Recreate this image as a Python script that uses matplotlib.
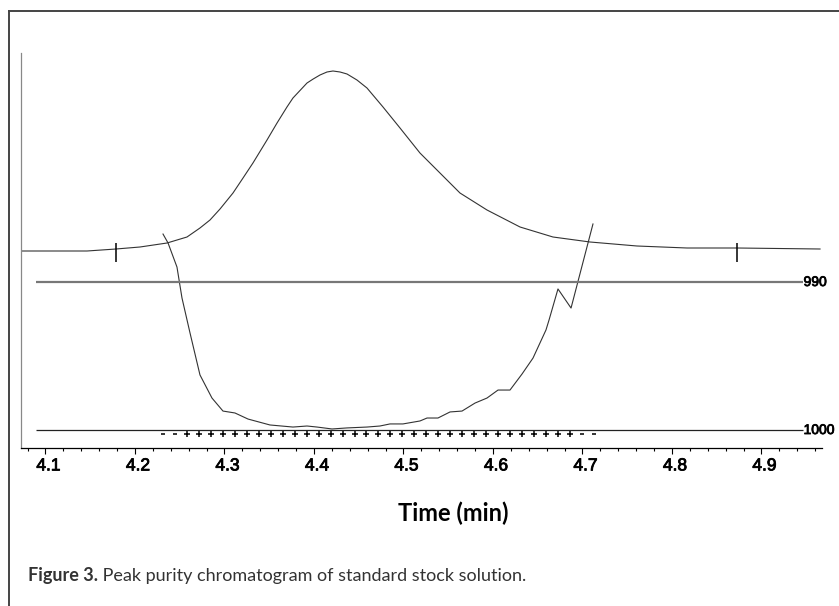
# peak purity chromatogram, standard stock solution
import numpy as np
import matplotlib
matplotlib.use('Agg')
import matplotlib.pyplot as plt
import matplotlib.patheffects as pe
from matplotlib.lines import Line2D
from matplotlib.transforms import ScaledTranslation

# chromatogram trace (time in min, absorbance in mAU)
chrom_t = [4.0726, 4.1464, 4.1788, 4.2056, 4.2358, 4.2581, 4.2726, 4.2838, 4.2950,
           4.3095, 4.3207, 4.3318, 4.3475, 4.3587, 4.3698, 4.3765, 4.3922, 4.3991,
           4.4067, 4.4145, 4.4212, 4.4291, 4.4369, 4.4480, 4.4592, 4.4771, 4.4961,
           4.5184, 4.5374, 4.5631, 4.5933, 4.6302, 4.6670, 4.7084, 4.7609, 4.8168,
           4.8726, 4.9654]
chrom_a = [0, 0, 2, 4, 8, 14, 23, 31, 42,
           58, 73, 88, 111, 128, 144, 153, 168, 172,
           176, 179, 180, 179, 177, 171, 163, 144, 123,
           98, 81, 58, 41, 24, 14, 9, 5, 3,
           3, 2]

# peak start / end marks
mark_t = [4.179, 4.873]

# purity curve (purity index, axis inverted)
pur_t = [4.2313, 4.2369, 4.2469, 4.2525, 4.2615, 4.2726, 4.2860, 4.2983, 4.3117,
         4.3263, 4.3508, 4.3765, 4.3922, 4.4034, 4.4201, 4.4369, 4.4592, 4.4737,
         4.4849, 4.4994, 4.5184, 4.5263, 4.5385, 4.5520, 4.5654, 4.5799, 4.5933,
         4.6056, 4.6190, 4.6324, 4.6447, 4.6592, 4.6626, 4.6726, 4.6872, 4.7117]
pur_v = [986.76, 987.36, 988.99, 991.08, 993.45, 996.28, 997.84, 998.72, 998.85,
         999.26, 999.66, 999.80, 999.73, 999.80, 999.93, 999.86, 999.80, 999.73,
         999.59, 999.59, 999.39, 999.19, 999.19, 998.78, 998.72, 998.18, 997.84,
         997.30, 997.30, 996.22, 995.14, 993.24, 992.57, 990.47, 991.76, 986.08]

# purity flags along the bottom line
flag_t = [4.2313, 4.2447, 4.2581, 4.2714, 4.2848, 4.2982, 4.3116, 4.3249, 4.3383,
          4.3517, 4.3650, 4.3784, 4.3918, 4.4051, 4.4185, 4.4319, 4.4453, 4.4586,
          4.4720, 4.4854, 4.4988, 4.5121, 4.5255, 4.5389, 4.5523, 4.5656, 4.5790,
          4.5924, 4.6057, 4.6191, 4.6325, 4.6459, 4.6592, 4.6726, 4.6860, 4.6994,
          4.7128]
flag_s = "--+++++++++++++++++++++++++++++++++--"

ref_lines = [990, 1000]
ref_labels = ['990', '1000']

major_ticks = [4.1, 4.2, 4.3, 4.4, 4.5, 4.6, 4.7, 4.8, 4.9]
tick_labels = ['4.1', '4.2', '4.3', '4.4', '4.5', '4.6', '4.7', '4.8', '4.9']

W, H = 839, 606
fig = plt.figure(figsize=(W/100., H/100.), dpi=100)
heavy = [pe.withStroke(linewidth=0.6, foreground='black')]

# axes box in pixels: left 21, right 822, top 53, bottom 448
ax = fig.add_axes([21./W, (H-448.)/H, (822-21.)/W, (448-53.)/H])
ax.set_xlim(4.07263, 4.96760)
ax.set_ylim(-197, 198)
ax.plot(chrom_t, chrom_a, color='#333333', lw=0.8)
ax.vlines(mark_t, -11, 8, color='black', lw=1.1)

for s in ['top', 'right']:
    ax.spines[s].set_visible(False)
ax.spines['left'].set_color('#888888')
ax.spines['left'].set_linewidth(0.9)
ax.spines['bottom'].set_color('black')
ax.spines['bottom'].set_linewidth(0.9)
ax.set_yticks([])
ax.set_xticks(major_ticks)
ax.set_xticklabels(tick_labels, fontsize=12.5, fontfamily='Liberation Sans')
ax.set_xticks(np.arange(4.08, 4.961, 0.02), minor=True)
ax.tick_params(axis='x', which='major', length=4.5, width=0.8, pad=3)
ax.tick_params(axis='x', which='minor', length=2.5, width=0.8)
shift = ScaledTranslation(3/100., 0, fig.dpi_scale_trans)
for lab in ax.get_xticklabels():
    lab.set_transform(lab.get_transform() + shift)
    lab.set_path_effects(heavy)

ax2 = ax.twinx()
ax2.set_ylim(1001.216, 974.527)
ax2.axis('off')
ax2.plot(pur_t, pur_v, color='#333333', lw=0.8)
ax2.hlines(ref_lines[0], 4.0894, 4.9464, color='#777777', lw=1.6)
ax2.hlines(ref_lines[1], 4.0894, 4.9464, color='#222222', lw=0.9)
for v, lab in zip(ref_lines, ref_labels):
    ax2.text(4.9470, v, lab, fontsize=10, fontfamily='Liberation Sans',
             va='center', ha='left', clip_on=False, path_effects=heavy)

for t, s in zip(flag_t, flag_s):
    if s == '+':
        ax2.plot(t, 1000.3, marker='+', ms=4.5, mew=1.1, color='black')
    else:
        ax2.plot(t, 1000.3, marker='_', ms=3.5, mew=1.1, color='black')

# axis title and caption
fig.text(453./W, 1-513./H, 'Time (min)', fontsize=17, fontweight='bold',
         fontfamily='Lato', ha='center', va='center')
t1 = fig.text(28./W, 1-576./H, 'Figure 3.', fontsize=13, fontweight='bold',
              fontfamily='Lato', color='#333333', ha='left', va='center')
ax.annotate(' Peak purity chromatogram of standard stock solution.',
            xy=(1, 0.5), xycoords=t1, va='center', ha='left',
            fontsize=13, fontfamily='Lato', color='#333333', annotation_clip=False)

# outer frame (left and top edges only)
fig.add_artist(Line2D([9./W, 9./W], [0, 1-11./H], color='#444444', lw=1.4))
fig.add_artist(Line2D([9./W, 1], [1-11./H, 1-11./H], color='#444444', lw=1.4))

fig.savefig('out.png', dpi=100)
